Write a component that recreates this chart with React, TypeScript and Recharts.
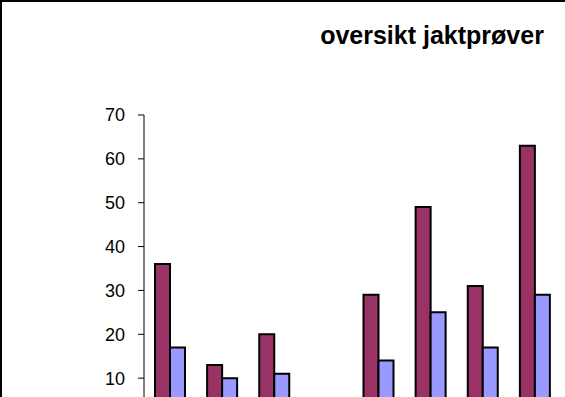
import React from 'react'
import { BarChart, Bar, XAxis, YAxis } from 'recharts'

const categories = ['1', '2', '3', '4', '5', '6', '7', '8']
const serieA = [36, 13, 20, null, 29, 49, 31, 63]
const serieB = [17, 10, 11, null, 14, 25, 17, 29]
const yTicks = [0, 10, 20, 30, 40, 50, 60, 70]

const data = categories.map((name, i) => ({
  name,
  serieA: serieA[i],
  serieB: serieB[i],
}))

const font = 'Arial, "Liberation Sans", sans-serif'

export default function App() {
  return (
    <div
      style={{
        position: 'absolute',
        left: 0,
        top: 0,
        width: 565,
        height: 397,
        overflow: 'hidden',
        background: 'white',
      }}
    >
      <div style={{ position: 'absolute', left: 0, top: 0 }}>
        <BarChart
          width={600}
          height={470}
          data={data}
          barGap={0}
          barSize={15}
          margin={{ top: 115, right: 39, bottom: 18, left: 0 }}
        >
          {/* category labels sit below the visible area */}
          <XAxis dataKey="name" height={30} stroke="#000" tickLine={false} tick={false} />
          <YAxis
            width={144}
            domain={[0, 70]}
            ticks={yTicks}
            stroke="#000"
            tickSize={6}
            tickMargin={13}
            tick={{ fill: '#000', fontSize: 18, fontFamily: font }}
          />
          <Bar dataKey="serieA" fill="#993366" stroke="#000" strokeWidth={2} isAnimationActive={false} />
          <Bar dataKey="serieB" fill="#9999FF" stroke="#000" strokeWidth={2} isAnimationActive={false} />
        </BarChart>
      </div>
      <div
        style={{
          position: 'absolute',
          left: 0,
          top: 0,
          width: 700,
          height: 600,
          border: '2px solid #000',
          boxSizing: 'border-box',
          pointerEvents: 'none',
        }}
      />
      <div
        style={{
          position: 'absolute',
          left: 292,
          width: 280,
          top: 21,
          textAlign: 'center',
          fontFamily: font,
          fontWeight: 'bold',
          fontSize: 25,
          lineHeight: '29px',
          color: '#000',
        }}
      >
        oversikt jaktprøver
      </div>
    </div>
  )
}
